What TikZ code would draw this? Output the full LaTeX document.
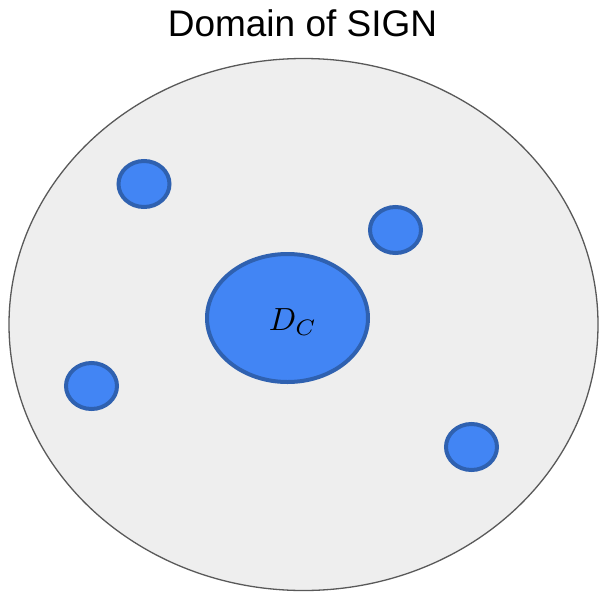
\documentclass[tikz,border=0pt]{standalone}
\usepackage{fontspec}
\setmainfont{Liberation Sans}
\usepackage{graphicx}
\usepackage{tikz}
\definecolor{domaingray}{HTML}{EEEEEE}
\definecolor{domainedge}{HTML}{595959}
\definecolor{signblue}{HTML}{4285F4}
\definecolor{signedge}{HTML}{2F61B0}
\tikzset{
  domainarea/.style={fill=domaingray, draw=domainedge, line width=1.3pt},
  blob/.style={fill=signblue, draw=signedge, line width=4pt}
}

\begin{document}
\begin{tikzpicture}[x=1pt, y=-1pt]

    % frame of the picture
    \useasboundingbox (0,0) rectangle (600,592);

    % title
    \node[font=\fontsize{37}{44}\selectfont] (title) at (302.5,23) {Domain of SIGN};

    % whole domain
    \draw[domainarea] (303.5,324.5) ellipse [x radius=294.5, y radius=266];

    % central region
    \draw[blob] (287.5,318) ellipse [x radius=80.5, y radius=64];
    \node (dc) at (293,322) {\scalebox{3.2}{$D_C$}};

    % small regions
    \foreach \x/\y in {
      144/184,
      395.5/230,
      91.5/386,
      471.5/447
    }{
      \draw[blob] (\x,\y) ellipse [x radius=25.5, y radius=23];
    }

\end{tikzpicture}
\end{document}
